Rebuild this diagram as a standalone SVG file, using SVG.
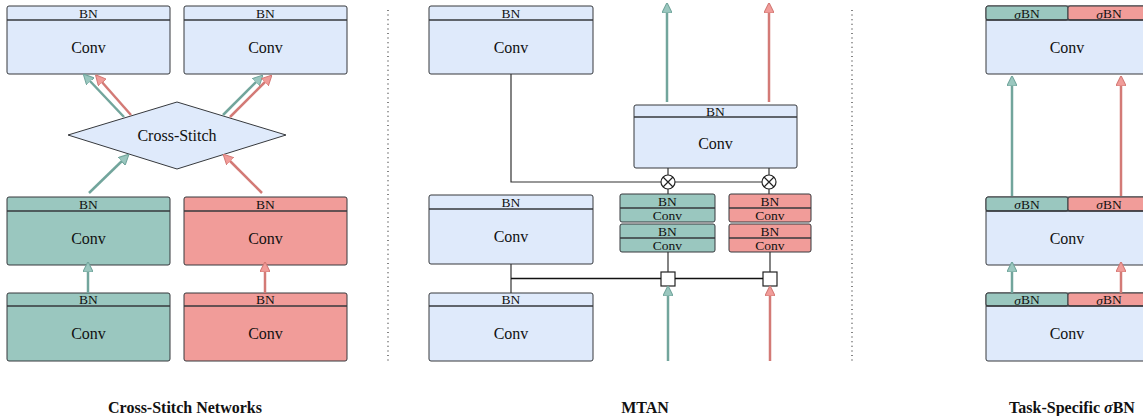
<svg xmlns="http://www.w3.org/2000/svg" width="1143" height="416" viewBox="0 0 1143 416">
<defs>
<style>
.blue{fill:#dfeafb;stroke:#36393d;stroke-width:1}
.green{fill:#9ac7bf;stroke:#36393d;stroke-width:1}
.red{fill:#f19c99;stroke:#36393d;stroke-width:1}
.div{stroke:#36393d;stroke-width:1.5;fill:none}
.t{font-family:"Liberation Serif","Times New Roman",serif;fill:#111;text-anchor:middle;dominant-baseline:central}
.bn{font-size:13.5px}
.cv{font-size:16px}
.sm{font-size:13.5px}
.cap{font-family:"Liberation Serif","Times New Roman",serif;font-weight:bold;font-size:16px;text-anchor:middle;fill:#111}
.ag{stroke:#72a59c;stroke-width:2.5;fill:none;marker-end:url(#hg)}
.ar{stroke:#d37a76;stroke-width:2.5;fill:none;marker-end:url(#hr)}
.ln{stroke:#333;stroke-width:1.2;fill:none}
.lnb{stroke:#111;stroke-width:1.6;fill:none}
.dot{stroke:#333;stroke-width:1.2;stroke-dasharray:1 3.6;fill:none}
</style>
<marker id="hg" viewBox="0 0 10 10" refX="2" refY="5" markerWidth="4.2" markerHeight="4.2" orient="auto" markerUnits="strokeWidth">
<path d="M0,0 L10,5 L0,10 Z" fill="#9ac7bf" stroke="#72a59c" stroke-width="1"/>
</marker>
<marker id="hr" viewBox="0 0 10 10" refX="2" refY="5" markerWidth="4.2" markerHeight="4.2" orient="auto" markerUnits="strokeWidth">
<path d="M0,0 L10,5 L0,10 Z" fill="#f19c99" stroke="#d37a76" stroke-width="1"/>
</marker>
</defs>

<!-- Cross-Stitch -->
<g id="cs-top-left">
<rect class="blue" x="7" y="6" width="163" height="68" rx="2"/>
<line class="div" x1="7" y1="20" x2="170" y2="20"/>
<text class="t bn" x="88.5" y="13.5">BN</text>
<text class="t cv" x="88.5" y="47">Conv</text>
</g>
<g id="cs-top-right">
<rect class="blue" x="184" y="6" width="163" height="68" rx="2"/>
<line class="div" x1="184" y1="20" x2="347" y2="20"/>
<text class="t bn" x="265.5" y="13.5">BN</text>
<text class="t cv" x="265.5" y="47">Conv</text>
</g>
<g id="cs-diamond">
<polygon class="blue" points="68,135 177,102 286,135 177,169"/>
<text class="t cv" x="177" y="135">Cross-Stitch</text>
</g>
<g id="cs-mid-left">
<rect class="green" x="7" y="197" width="163" height="68" rx="2"/>
<line class="div" x1="7" y1="211" x2="170" y2="211"/>
<text class="t bn" x="88.5" y="204">BN</text>
<text class="t cv" x="88.5" y="238">Conv</text>
</g>
<g id="cs-mid-right">
<rect class="red" x="184" y="197" width="163" height="68" rx="2"/>
<line class="div" x1="184" y1="211" x2="347" y2="211"/>
<text class="t bn" x="265.5" y="204">BN</text>
<text class="t cv" x="265.5" y="238">Conv</text>
</g>
<g id="cs-bot-left">
<rect class="green" x="7" y="293" width="163" height="68" rx="2"/>
<line class="div" x1="7" y1="306" x2="170" y2="306"/>
<text class="t bn" x="88.5" y="299.5">BN</text>
<text class="t cv" x="88.5" y="333">Conv</text>
</g>
<g id="cs-bot-right">
<rect class="red" x="184" y="293" width="163" height="68" rx="2"/>
<line class="div" x1="184" y1="306" x2="347" y2="306"/>
<text class="t bn" x="265.5" y="299.5">BN</text>
<text class="t cv" x="265.5" y="333">Conv</text>
</g>

<!-- MTAN -->
<g id="mtan-top">
<rect class="blue" x="429" y="6" width="164" height="68" rx="2"/>
<line class="div" x1="429" y1="20" x2="593" y2="20"/>
<text class="t bn" x="511" y="13.5">BN</text>
<text class="t cv" x="511" y="47">Conv</text>
</g>
<g id="mtan-mid">
<rect class="blue" x="429" y="195" width="164" height="69" rx="2"/>
<line class="div" x1="429" y1="209" x2="593" y2="209"/>
<text class="t bn" x="511" y="202">BN</text>
<text class="t cv" x="511" y="236.5">Conv</text>
</g>
<g id="mtan-bot">
<rect class="blue" x="429" y="293" width="164" height="68" rx="2"/>
<line class="div" x1="429" y1="306" x2="593" y2="306"/>
<text class="t bn" x="511" y="299.5">BN</text>
<text class="t cv" x="511" y="333">Conv</text>
</g>
<g id="mtan-att">
<rect class="blue" x="634" y="105" width="163" height="63" rx="2"/>
<line class="div" x1="634" y1="117" x2="797" y2="117"/>
<text class="t bn" x="715.5" y="111">BN</text>
<text class="t cv" x="715.5" y="143">Conv</text>
</g>
<g id="mtan-green-stack">
<rect class="green" x="620" y="194" width="95" height="28" rx="2"/>
<line class="div" x1="620" y1="208" x2="715" y2="208"/>
<text class="t sm" x="667.5" y="201">BN</text>
<text class="t sm" x="667.5" y="215">Conv</text>
<rect class="green" x="620" y="224" width="95" height="28" rx="2"/>
<line class="div" x1="620" y1="238" x2="715" y2="238"/>
<text class="t sm" x="667.5" y="231">BN</text>
<text class="t sm" x="667.5" y="245">Conv</text>
</g>
<g id="mtan-red-stack">
<rect class="red" x="729" y="194" width="82" height="28" rx="2"/>
<line class="div" x1="729" y1="208" x2="811" y2="208"/>
<text class="t sm" x="770" y="201">BN</text>
<text class="t sm" x="770" y="215">Conv</text>
<rect class="red" x="729" y="224" width="82" height="28" rx="2"/>
<line class="div" x1="729" y1="238" x2="811" y2="238"/>
<text class="t sm" x="770" y="231">BN</text>
<text class="t sm" x="770" y="245">Conv</text>
</g>
<g id="mtan-mult-green">
<circle cx="668" cy="182" r="7" fill="#fff" stroke="#222" stroke-width="1.2"/>
<path d="M663,177 L673,187 M673,177 L663,187" stroke="#222" stroke-width="1.2"/>
</g>
<g id="mtan-mult-red">
<circle cx="769" cy="182" r="7" fill="#fff" stroke="#222" stroke-width="1.2"/>
<path d="M764,177 L774,187 M774,177 L764,187" stroke="#222" stroke-width="1.2"/>
</g>
<g id="mtan-sq-green">
<rect x="661" y="272" width="14" height="14" fill="#fff" stroke="#222" stroke-width="1.2"/>
</g>
<g id="mtan-sq-red">
<rect x="763" y="272" width="14" height="14" fill="#fff" stroke="#222" stroke-width="1.2"/>
</g>

<!-- Task-specific -->
<g id="ts-top">
<rect class="blue" x="986" y="6" width="170" height="68" rx="2"/>
<rect class="green" x="986" y="6" width="82" height="14" rx="2"/>
<rect class="red" x="1068" y="6" width="88" height="14" rx="2"/>
<line class="div" x1="986" y1="20" x2="1156" y2="20"/>
<text class="t bn" x="1027" y="13.5"><tspan font-style="italic">σ</tspan>BN</text>
<text class="t bn" x="1109" y="13.5"><tspan font-style="italic">σ</tspan>BN</text>
<text class="t cv" x="1067" y="47">Conv</text>
</g>
<g id="ts-mid">
<rect class="blue" x="986" y="197" width="170" height="68" rx="2"/>
<rect class="green" x="986" y="197" width="82" height="14" rx="2"/>
<rect class="red" x="1068" y="197" width="88" height="14" rx="2"/>
<line class="div" x1="986" y1="211" x2="1156" y2="211"/>
<text class="t bn" x="1027" y="204"><tspan font-style="italic">σ</tspan>BN</text>
<text class="t bn" x="1109" y="204"><tspan font-style="italic">σ</tspan>BN</text>
<text class="t cv" x="1067" y="238">Conv</text>
</g>
<g id="ts-bot">
<rect class="blue" x="986" y="293" width="170" height="68" rx="2"/>
<rect class="green" x="986" y="293" width="82" height="13" rx="2"/>
<rect class="red" x="1068" y="293" width="88" height="13" rx="2"/>
<line class="div" x1="986" y1="306" x2="1156" y2="306"/>
<text class="t bn" x="1027" y="299.5"><tspan font-style="italic">σ</tspan>BN</text>
<text class="t bn" x="1109" y="299.5"><tspan font-style="italic">σ</tspan>BN</text>
<text class="t cv" x="1067" y="333">Conv</text>
</g>

<!-- connectors -->
<g id="connectors">
<path class="ag" d="M124,117 L89,80"/>
<path class="ar" d="M131,115 L101,81"/>
<path class="ag" d="M223,115 L257,81"/>
<path class="ar" d="M230,117 L266,81"/>
<path class="ag" d="M89,193 L123,160"/>
<path class="ar" d="M262,193 L229,160"/>
<path class="ag" d="M88,293 L88,270"/>
<path class="ar" d="M265,293 L265,270"/>

<path class="ln" d="M511,74 L511,182 L661,182 M675,182 L762,182"/>
<path class="ln" d="M668,175 L668,168 M769,175 L769,168"/>
<path class="ln" d="M668,189 L668,194 M769,189 L769,194"/>
<path class="ln" d="M668,252 L668,272 M770,252 L770,272"/>
<path class="ln" d="M511,264 L511,293"/>
<path class="lnb" d="M511,278.5 L661,278.5 M675,278.5 L763,278.5"/>
<path class="ag" d="M667,102 L667,11"/>
<path class="ar" d="M769,102 L769,11"/>
<path class="ag" d="M668,361 L668,294"/>
<path class="ar" d="M770,361 L770,294"/>

<path class="ag" d="M1012,196 L1012,84"/>
<path class="ar" d="M1121,196 L1121,84"/>
<path class="ag" d="M1012,293 L1012,270"/>
<path class="ar" d="M1121,293 L1121,270"/>

<line class="dot" x1="388" y1="10" x2="388" y2="362"/>
<line class="dot" x1="852" y1="10" x2="852" y2="362"/>
</g>

<text class="cap" x="185" y="413">Cross-Stitch Networks</text>
<text class="cap" x="645" y="413">MTAN</text>
<text class="cap" x="1072" y="413">Task-Specific <tspan font-style="italic">σ</tspan>BN</text>
</svg>
